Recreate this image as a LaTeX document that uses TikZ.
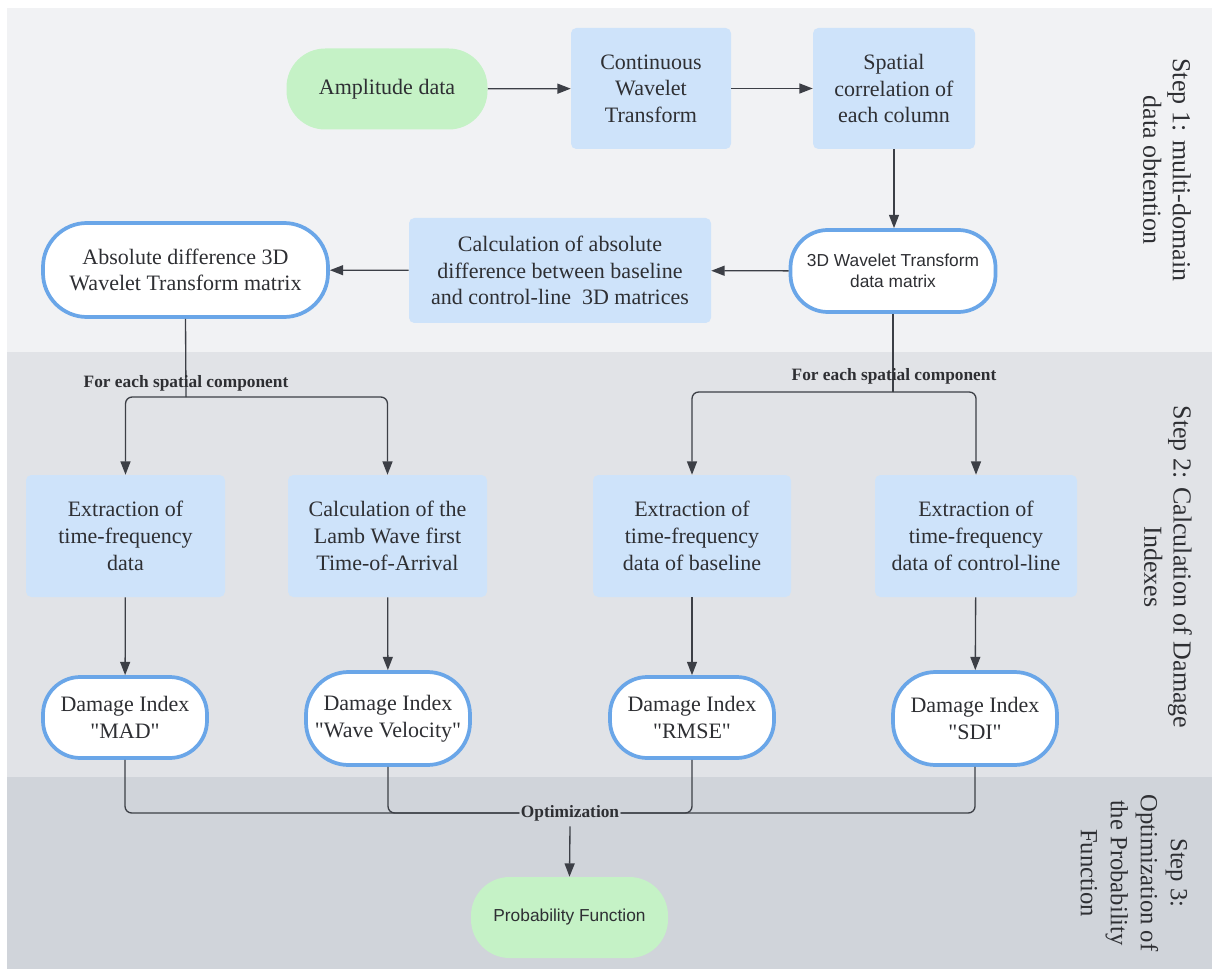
\documentclass[tikz,border=0pt]{standalone}
\usepackage{fontspec}
\setmainfont{Liberation Serif}[Ligatures=TeXOff]
\setsansfont{Liberation Sans}
\usetikzlibrary{arrows.meta}
\definecolor{bandA}{HTML}{F1F2F4}
\definecolor{bandB}{HTML}{E1E3E7}
\definecolor{bandC}{HTML}{D0D4DA}
\definecolor{boxblue}{HTML}{CEE3FA}
\definecolor{pillgreen}{HTML}{C5F2C6}
\definecolor{pillblue}{HTML}{6AA6E8}
\definecolor{arrc}{HTML}{3C3F46}
\definecolor{txt}{HTML}{2E2F33}
\begin{document}
\begin{tikzpicture}[x=0.75pt,y=-0.75pt,
  bluebox/.style={fill=boxblue, rounded corners=4pt, align=center, text=txt,
    font=\fontsize{16.5}{20}\selectfont, inner sep=2pt},
  pill/.style={draw=pillblue, line width=2.8pt, fill=white, rounded corners=28pt,
    align=center, text=txt, font=\fontsize{16.5}{20}\selectfont, inner sep=2pt},
  greenpill/.style={fill=pillgreen, rounded corners=29pt, align=center, text=txt, inner sep=2pt},
  arr/.style={draw=arrc, line width=1pt, -{Triangle[length=10pt,width=7.5pt]}},
  conn/.style={draw=arrc, line width=1pt},
  steplabel/.style={rotate=-90, align=center, text=txt, font=\fontsize{19.5}{22}\selectfont},
  branchlabel/.style={text=txt, font=\bfseries\fontsize{13}{15}\selectfont, inner sep=1pt}
]
\useasboundingbox (0,0) rectangle (1212,969);
% bands
\fill[white] (0,0) rectangle (1212,969);
\fill[bandA] (7,8) rectangle (1212,352);
\fill[bandB] (7,352) rectangle (1212,777);
\fill[bandC] (7,777) rectangle (1212,969);

% step 1 nodes
\node[greenpill, minimum width=150.75pt, minimum height=60.75pt,
  font=\fontsize{16.5}{20}\selectfont] (amp) at (387,89) {Amplitude data};
\node[bluebox, minimum width=120pt, minimum height=90.75pt] (cwt) at (651,88.5) {Continuous\\Wavelet\\Transform};
\node[bluebox, minimum width=121.5pt, minimum height=90.75pt] (spat) at (894,88.5) {Spatial\\correlation of\\each column};
\node[pill, minimum width=153.75pt, minimum height=61.5pt,
  font=\sffamily\fontsize{13}{16}\selectfont] (wt3d) at (893,271) {3D Wavelet Transform\\data matrix};
\node[bluebox, minimum width=226.5pt, minimum height=78.75pt] (calc) at (560,270.5) {Calculation of absolute\\difference between baseline\\and control-line~~3D matrices};
\node[pill, minimum width=213.75pt, minimum height=70.5pt, rounded corners=33pt] (abs) at (185.5,270) {Absolute difference 3D\\Wavelet Transform matrix};

% step 2 boxes
\node[bluebox, minimum width=149.25pt, minimum height=91.5pt] (ext1) at (125.5,536) {Extraction of\\time-frequency\\data};
\node[bluebox, minimum width=149.25pt, minimum height=91.5pt] (lamb) at (387.5,536) {Calculation of the\\Lamb Wave first\\Time-of-Arrival};
\node[bluebox, minimum width=148.5pt, minimum height=91.5pt] (base) at (692,536) {Extraction of\\time-frequency\\data of baseline};
\node[bluebox, minimum width=151.5pt, minimum height=91.5pt] (ctrl) at (976,536) {Extraction of\\time-frequency\\data of control-line};

% damage index pills
\node[pill, minimum width=123pt, minimum height=60.75pt] (mad) at (125,717.5) {Damage Index\\"MAD"};
\node[pill, minimum width=123pt, minimum height=69.75pt, rounded corners=32pt] (wave) at (388,718.5) {Damage Index\\"Wave Velocity"};
\node[pill, minimum width=123pt, minimum height=60.75pt] (rmse) at (692,717.5) {Damage Index\\"RMSE"};
\node[pill, minimum width=123pt, minimum height=69.75pt, rounded corners=32pt] (sdi) at (975,718.5) {Damage Index\\"SDI"};

% step 3
\node[branchlabel, fill=bandC] (opt) at (570,813) {Optimization};
\node[greenpill, minimum width=147.75pt, minimum height=60.75pt,
  font=\sffamily\fontsize{13}{16}\selectfont] (prob) at (569.5,917.5) {Probability Function};

% connectors step 1
\draw[arr] (amp) -- (cwt);
\draw[arr] (cwt) -- (spat);
\draw[arr] (spat.south) -- (wt3d.north -| spat.south);
\draw[arr] (wt3d) -- (calc);
\draw[arr] (calc) -- (abs);

% branches
\coordinate (bl) at (186,397);
\coordinate (br) at (893,392);
\draw[conn] (abs.south) -- (bl);
\draw[arr, rounded corners=5pt] (bl) -| (ext1.north);
\draw[arr, rounded corners=5pt] (bl) -| (lamb.north);
\draw[conn] (wt3d.south) -- (br);
\draw[arr, rounded corners=5pt] (br) -| (base.north);
\draw[arr, rounded corners=5pt] (br) -| (ctrl.north);

% row 2 to row 3
\draw[arr] (ext1) -- (mad);
\draw[arr] (lamb) -- (wave);
\draw[arr] (base) -- (rmse);
\draw[arr] (ctrl) -- (sdi);

% to optimization
\draw[conn, rounded corners=5pt] (mad.south) |- (opt.west);
\draw[conn, rounded corners=5pt] (wave.south) |- (opt.west);
\draw[conn, rounded corners=5pt] (rmse.south) |- (opt.east);
\draw[conn, rounded corners=5pt] (sdi.south) |- (opt.east);
\draw[arr] (opt.south) ++(0,4) -- (prob.north);

% branch labels
\node[branchlabel] (lab1) at (186,383) {For each spatial component};
\node[branchlabel] (lab2) at (894,376) {For each spatial component};

% step labels
\node[steplabel] (s1) at (1167,170) {Step 1: multi-domain\\data obtention};
\node[steplabel] (s2) at (1168,567) {Step 2: Calculation of Damage\\Indexes};
\node[steplabel, font=\fontsize{18.5}{22.5}\selectfont] (s3) at (1134,873) {Step 3:\\Optimization of\\the Probability\\Function};
\end{tikzpicture}
\end{document}
